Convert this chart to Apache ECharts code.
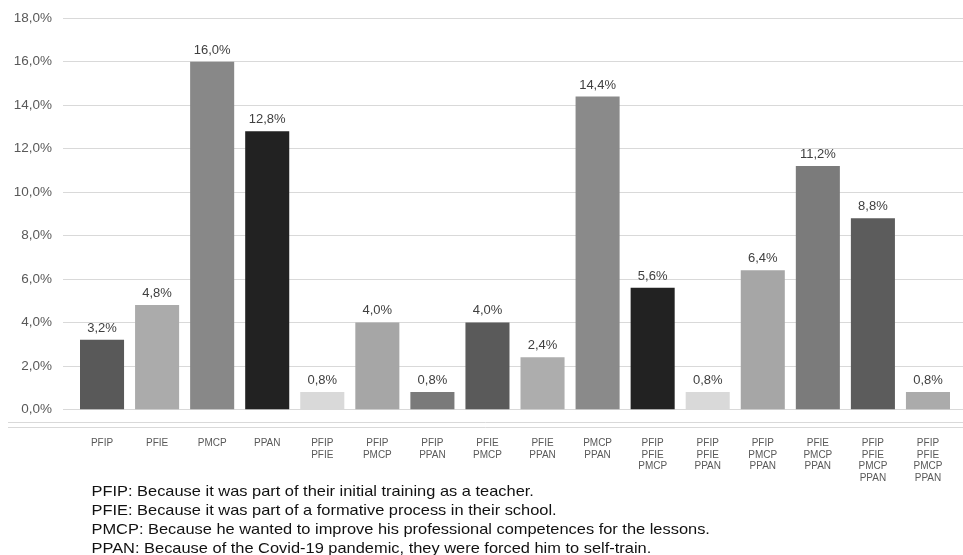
<!DOCTYPE html>
<html>
<head>
<meta charset="utf-8">
<script src="https://cdn.jsdelivr.net/npm/echarts@6/dist/echarts.min.js"></script>
<style>
  html, body { margin: 0; padding: 0; background: #fff; }
  #chart { width: 963px; height: 555px; }
</style>
</head>
<body>
<div id="chart"></div>
<script>
// Motivation combinations for self-training (share of respondents, %)
const categories = [
  'PFIP', 'PFIE', 'PMCP', 'PPAN',
  'PFIP\nPFIE', 'PFIP\nPMCP', 'PFIP\nPPAN', 'PFIE\nPMCP', 'PFIE\nPPAN', 'PMCP\nPPAN',
  'PFIP\nPFIE\nPMCP', 'PFIP\nPFIE\nPPAN', 'PFIP\nPMCP\nPPAN', 'PFIE\nPMCP\nPPAN',
  'PFIP\nPFIE\nPMCP\nPPAN', 'PFIP\nPFIE\nPMCP\nPPAN'
];
const shares = [3.2, 4.8, 16.0, 12.8, 0.8, 4.0, 0.8, 4.0, 2.4, 14.4, 5.6, 0.8, 6.4, 11.2, 8.8, 0.8];
const barColors = [
  '#595959', '#ababab', '#888888', '#222222',
  '#d9d9d9', '#a6a6a6', '#7a7a7a', '#5a5a5a', '#adadad', '#8a8a8a',
  '#222222', '#d9d9d9', '#a6a6a6', '#7b7b7b', '#5c5c5c', '#ababab'
];
const yMin = 0, yMax = 18, yStep = 2;
const legendLines = [
  'PFIP: Because it was part of their initial training as a teacher.',
  'PFIE: Because it was part of a formative process in their school.',
  'PMCP: Because he wanted to improve his professional competences for the lessons.',
  'PPAN: Because of the Covid-19 pandemic, they were forced him to self-train.'
];

const pct = v => v.toFixed(1).replace('.', ',') + '%';
const FONT = '"Liberation Sans", Arial, sans-serif';

const chart = echarts.init(document.getElementById('chart'), null, { renderer: 'canvas' });

const option = {
  backgroundColor: '#ffffff',
  animation: false,
  textStyle: { fontFamily: FONT },
  grid: [
    // gridline frame with value labels
    { left: 63, right: 0, top: 18.3, bottom: 145.7, containLabel: false },
    // bar area
    { left: 74.5, right: 7.5, top: 18.3, bottom: 145.7, containLabel: false }
  ],
  xAxis: [
    { type: 'category', gridIndex: 0, data: [''], show: false },
    {
      type: 'category', gridIndex: 1, data: categories,
      axisLine: { show: true, lineStyle: { color: '#d9d9d9', width: 1 } },
      axisTick: { show: false },
      axisLabel: {
        interval: 0, margin: 28, color: '#595959', fontSize: 10, lineHeight: 11.7,
        fontFamily: FONT, verticalAlign: 'top'
      }
    }
  ],
  yAxis: [
    {
      type: 'value', gridIndex: 0, min: yMin, max: yMax, interval: yStep,
      axisLine: { show: false }, axisTick: { show: false },
      splitLine: { lineStyle: { color: '#d9d9d9', width: 1 } },
      axisLabel: { formatter: v => pct(v), color: '#595959', fontSize: 13.5, margin: 11, fontFamily: FONT }
    },
    {
      type: 'value', gridIndex: 1, min: yMin, max: yMax, interval: yStep,
      show: false, splitLine: { show: false }
    }
  ],
  series: [{
    type: 'bar',
    xAxisIndex: 1, yAxisIndex: 1,
    barCategoryGap: '20%',
    data: shares.map((v, i) => ({ value: v, itemStyle: { color: barColors[i] } })),
    label: {
      show: true, position: 'top', distance: 5,
      formatter: p => pct(p.value),
      color: '#404040', fontSize: 13, fontFamily: FONT
    }
  }],
  graphic: [
    { type: 'line', shape: { x1: 8, y1: 422.5, x2: 963, y2: 422.5 }, style: { stroke: '#d9d9d9', lineWidth: 1 } },
    { type: 'line', shape: { x1: 8, y1: 427.5, x2: 963, y2: 427.5 }, style: { stroke: '#d9d9d9', lineWidth: 1 } }
  ].concat(legendLines.map((t, i) => ({
    type: 'text', x: 91.5, y: 484.5 + i * 18.9, scaleX: 1.094,
    style: { text: t, fill: '#111111', font: '15px ' + FONT, textVerticalAlign: 'top' }
  })))
};

chart.setOption(option);
</script>
</body>
</html>
